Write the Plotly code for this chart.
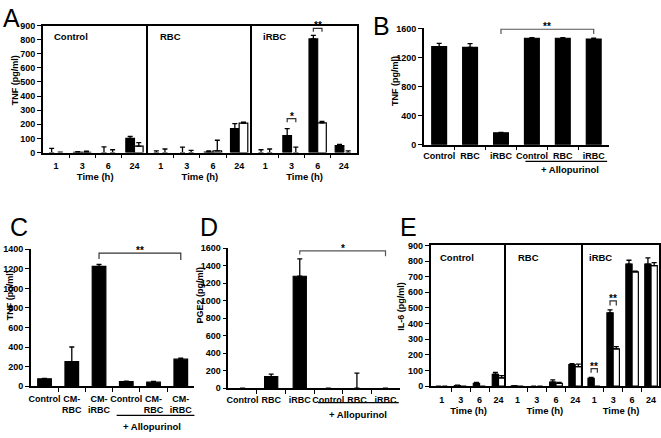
import plotly.graph_objects as go

W, H = 661, 438
def fx(p): return p / W
def fy(p): return 1 - p / H

# ---------------- data ----------------
times = ["1", "3", "6", "24"]
time_pos = [0, 1, 2, 3]

# Panel A: TNF (pg/ml); black = medium, white = + allopurinol
a_control_black = [0, 2, 0, 100]
a_control_black_err = [30, 5, 40, 15]
a_control_white = [0, 2, 0, 45]
a_control_white_err = [3, 8, 20, 25]
a_rbc_black = [0, 0, 3, 170]
a_rbc_black_err = [12, 38, 8, 35]
a_rbc_white = [0, 0, 12, 208]
a_rbc_white_err = [25, 15, 75, 8]
a_irbc_black = [0, 120, 805, 50]
a_irbc_black_err = [20, 50, 25, 8]
a_irbc_white = [0, 0, 210, 0]
a_irbc_white_err = [25, 38, 10, 12]

# Panel B
b_labels = ["Control", "RBC", "iRBC", "Control", "RBC", "iRBC"]
b_tnf = [1350, 1340, 165, 1465, 1465, 1455]
b_tnf_err = [45, 50, 5, 10, 10, 10]

# Panel C
PAD = "<span style='color:rgba(0,0,0,0)'>.</span>"
c_labels = ["Control<br>" + PAD, "CM-<br>RBC", "CM-<br>iRBC", "Control<br>" + PAD,
            "CM-<br>RBC", "CM-<br>iRBC"]
c_tnf = [75, 250, 1225, 45, 40, 275]
c_tnf_err = [3, 150, 20, 5, 8, 10]

# Panel D
d_labels = ["Control", "RBC", "iRBC", "Control", "RBC", "iRBC"]
d_pge2 = [0, 130, 1280, 0, 0, 0]
d_pge2_err = [0, 30, 200, 0, 170, 0]

# Panel E: IL-6 (pg/ml)
e_control_black = [0, 3, 18, 75]
e_control_black_err = [0, 3, 5, 12]
e_control_white = [0, 0, 0, 52]
e_control_white_err = [0, 0, 0, 15]
e_rbc_black = [2, 0, 25, 138]
e_rbc_black_err = [0, 0, 15, 5]
e_rbc_white = [0, 0, 18, 125]
e_rbc_white_err = [0, 0, 5, 15]
e_irbc_black = [50, 468, 780, 780]
e_irbc_black_err = [5, 20, 25, 40]
e_irbc_white = [0, 238, 730, 770]
e_irbc_white_err = [0, 15, 5, 20]

cat_pos = [0, 1, 2, 3, 4, 5]

# ---------------- styling helpers ----------------
FAM = "Liberation Sans, Arial, sans-serif"
bfont = dict(family=FAM, size=9, color="black", weight="bold")

def bar(x, y, err, xa, ya, color, width, offset=None):
    lw = [1.2 if v > 0 else 0 for v in y]
    return go.Bar(
        x=x, y=y, xaxis=xa, yaxis=ya, width=width, offset=offset,
        marker=dict(color=color, line=dict(color="black", width=lw)),
        error_y=dict(type="data", array=err, arrayminus=[0] * len(err),
                     symmetric=False, color="black", thickness=1.3, width=2.5),
        showlegend=False, hoverinfo="skip")

BW = 0.33
fig = go.Figure()
pairs = [
    ("x", "y", a_control_black, a_control_black_err, a_control_white, a_control_white_err),
    ("x2", "y2", a_rbc_black, a_rbc_black_err, a_rbc_white, a_rbc_white_err),
    ("x3", "y3", a_irbc_black, a_irbc_black_err, a_irbc_white, a_irbc_white_err),
    ("x7", "y7", e_control_black, e_control_black_err, e_control_white, e_control_white_err),
    ("x8", "y8", e_rbc_black, e_rbc_black_err, e_rbc_white, e_rbc_white_err),
    ("x9", "y9", e_irbc_black, e_irbc_black_err, e_irbc_white, e_irbc_white_err),
]
for xa, ya, kb, kbe, kw, kwe in pairs:
    fig.add_trace(bar(time_pos, kb, kbe, xa, ya, "black", BW, -BW))
    fig.add_trace(bar(time_pos, kw, kwe, xa, ya, "white", BW, 0))

fig.add_trace(bar(cat_pos, b_tnf, b_tnf_err, "x4", "y4", "black", 0.48))
fig.add_trace(bar(cat_pos, c_tnf, c_tnf_err, "x5", "y5", "black", 0.5))
fig.add_trace(bar(cat_pos, d_pge2, d_pge2_err, "x6", "y6", "black", 0.46))

def xax(domain, rng, tickvals, ticktext, anchor, minor_vals, mirror=False,
        title=None, ticklen=4):
    d = dict(domain=[fx(domain[0]), fx(domain[1])], range=rng, anchor=anchor,
             showline=True, linecolor="black", linewidth=1.5, mirror=mirror,
             tickmode="array", tickvals=tickvals, ticktext=ticktext, tickangle=0,
             ticks="outside", ticklen=ticklen, tickcolor="rgba(0,0,0,0)",
             tickfont=bfont, showgrid=False, zeroline=False, fixedrange=True,
             minor=dict(tickmode="array", tickvals=minor_vals, ticks="outside",
                        ticklen=4, tickcolor="black", tickwidth=1.3, showgrid=False))
    if title:
        d["title"] = dict(text=title, font=dict(family=FAM, size=9.5, color="black",
                                                weight="bold"), standoff=2)
    return d

def yax(domain, rng, dtick, anchor, labels=True, mirror=False):
    d = dict(domain=[fy(domain[1]), fy(domain[0])], range=rng, anchor=anchor,
             showline=True, linecolor="black", linewidth=1.5, mirror=mirror,
             showgrid=False, zeroline=False, fixedrange=True)
    if labels:
        d.update(tickmode="linear", tick0=0, dtick=dtick, ticks="outside",
                 ticklen=4, tickwidth=1.3, tickcolor="black", tickfont=bfont)
    else:
        d.update(showticklabels=False, ticks="")
    return d

tmin = [0.5, 1.5, 2.5]
cmin = [0.5, 1.5, 2.5, 3.5, 4.5]
A_Y = (21, 151)
E_Y = (246, 390)
ARNG = [-0.5, 3.5]
ERNG = [-0.58, 3.42]

layout = dict(
    width=W, height=H, margin=dict(l=0, r=0, t=0, b=0),
    paper_bgcolor="white", plot_bgcolor="rgba(0,0,0,0)", barmode="overlay",
    showlegend=False,
    xaxis=xax((41, 146), ARNG, time_pos, times, "y", tmin, True, "Time (h)"),
    xaxis2=xax((146, 251), ARNG, time_pos, times, "y2", tmin, True, "Time (h)"),
    xaxis3=xax((251, 356), ARNG, time_pos, times, "y3", tmin, True, "Time (h)"),
    yaxis=yax(A_Y, [0, 900], 100, "x", True, False),
    yaxis2=yax(A_Y, [0, 900], 100, "x2", False, False),
    yaxis3=yax(A_Y, [0, 900], 100, "x3", False, True),
    xaxis4=xax((423, 609), [-0.5, 5.5], cat_pos, b_labels, "y4", cmin, ticklen=2),
    yaxis4=yax((24, 143), [0, 1600], 400, "x4"),
    xaxis5=xax((29, 193), [-0.5, 5.5], cat_pos, c_labels, "y5", cmin, ticklen=3),
    yaxis5=yax((250, 390), [0, 1400], 200, "x5"),
    xaxis6=xax((227, 399), [-0.5, 5.5], cat_pos, d_labels, "y6", cmin, ticklen=2),
    yaxis6=yax((249, 392), [0, 1600], 200, "x6"),
    xaxis7=xax((430, 506), ERNG, time_pos, times, "y7", tmin, True, "Time (h)"),
    xaxis8=xax((506, 583), ERNG, time_pos, times, "y8", tmin, True, "Time (h)"),
    xaxis9=xax((583, 659), ERNG, time_pos, times, "y9", tmin, True, "Time (h)"),
    yaxis7=yax(E_Y, [0, 900], 100, "x7", True, False),
    yaxis8=yax(E_Y, [0, 900], 100, "x8", False, False),
    yaxis9=yax(E_Y, [0, 900], 100, "x9", False, True),
)
fig.update_layout(**layout)

shapes = []
annots = []

def bracket(xa, ya, x0, x1, top, leg0, leg1, text, color="#333"):
    shapes.append(dict(type="path", xref=xa, yref=ya,
                       path=f"M {x0},{leg0} L {x0},{top} L {x1},{top} L {x1},{leg1}",
                       line=dict(color=color, width=1.2)))
    annots.append(dict(xref=xa, yref=ya, x=(x0 + x1) / 2, y=top, text=text,
                       showarrow=False, yanchor="bottom", yshift=-5,
                       font=dict(family=FAM, size=10, color="black", weight="bold")))

h = BW / 2
bracket("x3", "y3", 1 - h, 1 + h, 240, 215, 215, "*")
bracket("x3", "y3", 2 - h, 2 + h, 880, 855, 855, "**")
bracket("x4", "y4", 2, 5, 1590, 1525, 1525, "**", "#555")
bracket("x5", "y5", 2, 5, 1360, 1300, 1290, "**")
bracket("x6", "y6", 2, 5, 1570, 1530, 1510, "*", "#555")
bracket("x9", "y9", 0 - h, 0 + h, 112, 85, 85, "**")
bracket("x9", "y9", 1 - h, 1 + h, 545, 515, 515, "**")

# "+ Allopurinol" underlines
for x0, x1, yl, xt, yt in [(525, 607, 160, 570, 168), (115, 193, 420, 150, 431),
                           (317, 398, 407, 357, 419)]:
    shapes.append(dict(type="line", xref="paper", yref="paper", x0=fx(x0), x1=fx(x1),
                       y0=fy(yl), y1=fy(yl), line=dict(color="black", width=1.3)))
    annots.append(dict(xref="paper", yref="paper", x=fx(xt), y=fy(yt), text="+ Allopurinol",
                       showarrow=False, xanchor="center", yanchor="middle",
                       font=dict(family=FAM, size=9.5, color="black", weight="bold")))

# y-axis titles
for xt, yt, txt in [(13, 77, "TNF (pg/ml)"), (394, 78, "TNF (pg/ml)"),
                    (8, 297, "TNF (pg/ml)"), (199, 297, "PGE2 (pg/ml)"),
                    (400, 308, "IL-6 (pg/ml)")]:
    annots.append(dict(xref="paper", yref="paper", x=fx(xt), y=fy(yt), text=txt,
                       textangle=-90, showarrow=False, xanchor="center", yanchor="middle",
                       font=dict(family=FAM, size=9, color="black", weight="bold")))

# subpanel labels
for xt, yt, txt in [(50, 32, "Control"), (156, 32, "RBC"), (260, 32, "iRBC"),
                    (437, 258, "Control"), (516, 258, "RBC"), (587, 258, "iRBC")]:
    annots.append(dict(xref="paper", yref="paper", x=fx(xt), y=fy(yt), text=txt,
                       showarrow=False, xanchor="left", yanchor="middle",
                       font=dict(family=FAM, size=9.5, color="black", weight="bold")))

# panel letters
for xt, yt, txt in [(10, 13, "A"), (381, 21, "B"), (17, 227, "C"), (208, 227, "D"),
                    (408, 227, "E")]:
    annots.append(dict(xref="paper", yref="paper", x=fx(xt), y=fy(yt), text=txt,
                       showarrow=False, xanchor="center", yanchor="middle",
                       font=dict(family=FAM, size=25, color="black")))

fig.update_layout(shapes=shapes, annotations=annots)
fig.write_html("out.html", config={"displayModeBar": False},
               post_script="document.body.style.margin='0';document.body.style.overflow='hidden';")
